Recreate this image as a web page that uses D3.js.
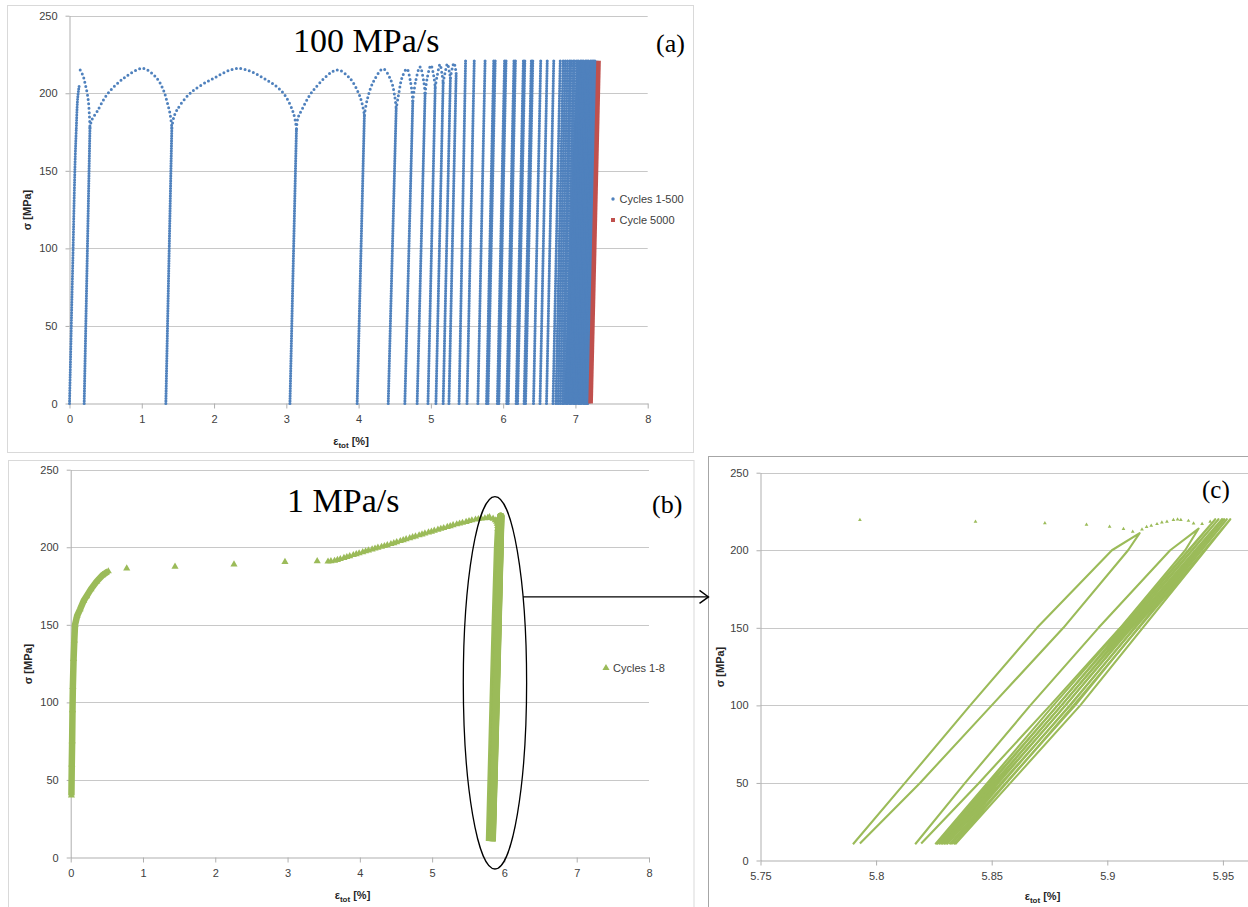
<!DOCTYPE html>
<html><head><meta charset="utf-8">
<script src="https://cdn.jsdelivr.net/npm/d3@7"></script>
<style>
body{margin:0;background:#fff;}
svg{display:block;}
text{font-family:"Liberation Sans",Arial,sans-serif;}
</style></head><body>
<svg id="chart" width="1248" height="907"></svg>
<script>
// ---------- tick labels ----------
const yTicks = [0, 50, 100, 150, 200, 250];
const abTicksX = [0, 1, 2, 3, 4, 5, 6, 7, 8];
const cTicksX = [5.75, 5.8, 5.85, 5.9, 5.95];

// ---------- panel (a): 100 MPa/s, cycles 1-500 ----------
const aLoad1 = [[0,0],[0.01,20],[0.02,40],[0.033,67],[0.05,100],[0.065,133],[0.08,160],[0.093,176],[0.11,195],[0.125,202],[0.135,205]];
const aArcs = [
  [[0.148,215],[0.19,211],[0.217,206],[0.245,200],[0.263,194],[0.275,186],[0.283,178]],
  [[0.283,178],[0.31,183],[0.379,188],[0.517,199],[0.747,209.6],[1.015,216],[1.209,209.6],[1.30,202],[1.347,195],[1.39,187],[1.416,178]],
  [[1.416,178],[1.44,184],[1.485,189],[1.669,200],[1.99,209.6],[2.34,216],[2.73,208.5],[2.96,200],[3.10,187],[3.14,177]],
  [[3.14,177],[3.16,184],[3.21,189],[3.375,202],[3.70,215],[3.88,209.6],[4.00,200],[4.05,193],[4.08,186]],
  [[4.08,186],[4.12,196],[4.20,207],[4.34,215.7],[4.45,208],[4.50,198],[4.52,190]],
  [[4.52,190],[4.56,201],[4.60,210],[4.667,215.7],[4.72,207],[4.75,195]],
  [[4.75,195],[4.79,208],[4.85,217],[4.90,208],[4.92,200]],
  [[4.92,200],[4.95,210],[5.00,218],[5.04,211],[5.06,204]],
  [[5.06,204],[5.09,212],[5.126,218.5],[5.155,212],[5.17,207]],
  [[5.17,207],[5.20,214],[5.23,219],[5.255,214],[5.27,210]],
  [[5.27,210],[5.295,216],[5.32,219.5],[5.34,216],[5.35,213]]
];
// [strain at 0 MPa, strain at top, stress at top]
const aSpikes = [
  [0.203,0.283,178],[1.333,1.416,178],[3.05,3.14,177],[3.98,4.08,186],[4.41,4.52,190],
  [4.64,4.75,195],[4.81,4.92,200],[4.96,5.06,204],[5.07,5.17,207],[5.17,5.27,210],[5.25,5.35,213],
  [5.39,5.48,221],[5.50,5.60,221],[5.65,5.75,221],[5.77,5.87,221],[5.79,5.89,221],
  [5.92,6.02,221],[5.94,6.04,221],[6.05,6.15,221],[6.07,6.17,221],[6.18,6.28,221],[6.20,6.30,221],
  [6.29,6.39,221],[6.31,6.41,221],[6.42,6.52,221],[6.51,6.61,221],[6.60,6.70,221],[6.69,6.79,221],
  [6.73,6.83,221],[6.76,6.86,221],[6.79,6.89,221],[6.82,6.92,221],[6.84,6.94,221],[6.87,6.97,221],
  [6.89,6.99,221],[6.92,7.02,221],[6.94,7.04,221],[6.97,7.07,221],[6.99,7.09,221],[7.01,7.11,221],
  [7.04,7.14,221],[7.06,7.16,221],[7.08,7.18,221],[7.11,7.21,221],[7.13,7.23,221],[7.15,7.25,221],[7.17,7.27,221]
];
const aDenseCore = [[6.84,0],[7.21,0],[7.32,221],[7.02,221],[6.98,180],[6.93,120],[6.88,50]];
const aCycle5000 = [[7.21,0],[7.32,221]];

// ---------- panel (b): 1 MPa/s, cycles 1-8 ----------
const bInitial = [[0.01,40],[0.015,60],[0.02,75],[0.025,95],[0.03,110],[0.04,128],[0.05,140],[0.06,150],[0.09,156],[0.13,160],[0.18,165.5],[0.22,168.5],[0.28,173],[0.36,178],[0.44,182],[0.52,184.5]];
const bCreep = [[0.775,186.4],[1.443,187.5],[2.259,189],[2.964,190.6],[3.41,191.0],
  [3.56,190.8],[3.60,191.0],[3.65,191.3],[3.69,191.8],[3.73,192.4],[3.78,193.1],[3.82,193.7],[3.86,194.3],
  [3.91,195.0],[3.95,195.6],[3.99,196.1],[4.04,196.8],[4.08,197.4],[4.12,198.0],[4.17,198.6],[4.21,199.2],
  [4.25,199.7],[4.30,200.3],[4.34,200.8],[4.38,201.4],[4.43,202.1],[4.47,202.7],[4.51,203.3],[4.56,204.0],
  [4.60,204.6],[4.64,205.2],[4.69,205.9],[4.73,206.5],[4.77,207.0],[4.82,207.7],[4.86,208.3],[4.90,208.9],
  [4.95,209.6],[4.99,210.1],[5.03,210.7],[5.08,211.3],[5.12,211.9],[5.16,212.4],[5.21,213.1],[5.25,213.6],
  [5.29,214.2],[5.34,214.8],[5.38,215.3],[5.42,215.8],[5.47,216.4],[5.51,216.9],[5.55,217.4],[5.60,217.9],
  [5.64,218.2],[5.68,218.5],[5.73,218.7],[5.77,218.9]];

// ---------- panel (c): zoom of the 8 loops ----------
const cLoops = [
  [[5.790,10.5],[5.8125,50],[5.8407,100],[5.8696,150],[5.902,200],[5.914,211],[5.909,200],[5.881,150],[5.850,100],[5.8190,50],[5.793,11]],
  [[5.8169,10.5],[5.8385,50],[5.8667,100],[5.8962,150],[5.9272,200],[5.9395,214],[5.9337,200],[5.9056,150],[5.8753,100],[5.8445,50],[5.8195,11]],
  [[5.8256,10.5],[5.8767,100],[5.9467,220],[5.8785,100],[5.8262,10.5]],
  [[5.8270,10.5],[5.8785,100],[5.9481,220],[5.8802,100],[5.8278,10.5]],
  [[5.8285,10.5],[5.8802,100],[5.9496,220],[5.8819,100],[5.8292,10.5]],
  [[5.8299,10.5],[5.8819,100],[5.9506,220],[5.8840,100],[5.8306,10.5]],
  [[5.8317,10.5],[5.8837,100],[5.9517,220],[5.8861,100],[5.8325,10.5]],
  [[5.8335,10.5],[5.8854,100],[5.9532,220],[5.8883,100],[5.8342,10.5]]
];
const cTop = [[5.793,219.5],[5.843,218.4],[5.873,217.4],[5.891,216.5],[5.901,215.2],[5.907,213.7],[5.911,212],
  [5.915,213.5],[5.917,215],[5.919,215.8],[5.9215,216.9],[5.9236,218],[5.9258,218.4],[5.9286,219.5],[5.9304,219.9],
  [5.9318,219.5],[5.9351,219],[5.9373,217.3],[5.941,217],[5.9445,218.4],[5.950,219.5]];

// ---------- legends / texts ----------
const aLegend = ["Cycles 1-500", "Cycle 5000"];
const bLegend = ["Cycles 1-8"];

const BLUE = "#4F81BD", RED = "#C0504D", GREEN = "#9BBB59";
const svg = d3.select("#chart");

function panel(o) {
  const x = d3.scaleLinear().domain(o.xDomain).range([o.left, o.right]);
  const y = d3.scaleLinear().domain([0, 250]).range([o.bottom, o.top]);
  const g = svg.append("g");
  g.append("rect").attr("x", o.frame[0]).attr("y", o.frame[1]).attr("width", o.frame[2]).attr("height", o.frame[3])
    .attr("fill", "#fff").attr("stroke", o.frameColor).attr("stroke-width", 1);
  g.selectAll("line.grid").data(yTicks.filter(d => d > 0)).join("line").attr("class", "grid")
    .attr("x1", o.left).attr("x2", o.right).attr("y1", d => Math.round(y(d)) + 0.5).attr("y2", d => Math.round(y(d)) + 0.5)
    .attr("stroke", "#C8C8C8").attr("stroke-width", 1);
  const ya = g.append("g").attr("transform", `translate(${o.left},0)`)
    .call(d3.axisLeft(y).tickValues(yTicks).tickSize(4).tickSizeOuter(0).tickPadding(8).tickFormat(d => String(d)));
  const xa = g.append("g").attr("transform", `translate(0,${o.bottom})`)
    .call(d3.axisBottom(x).tickValues(o.xTicks).tickSize(5).tickSizeOuter(0).tickPadding(7).tickFormat(d => String(d)));
  [ya, xa].forEach(a => {
    a.select(".domain").attr("stroke", "#AFAFAF");
    a.selectAll(".tick line").attr("stroke", "#AFAFAF");
    a.selectAll(".tick text").attr("fill", "#404040").style("font-size", "11px")
      .style("font-family", '"Liberation Sans", Arial, sans-serif');
  });
  // axis titles
  g.append("text").attr("transform", `translate(${o.yLab[0]},${o.yLab[1]}) rotate(-90)`)
    .attr("text-anchor", "middle").attr("dominant-baseline", "central")
    .style("font-size", "11px").style("font-weight", "bold").attr("fill", "#262626").text("σ [MPa]");
  const xt = g.append("text").attr("x", o.xLab[0]).attr("y", o.xLab[1]).attr("text-anchor", "middle")
    .style("font-size", "11px").style("font-weight", "bold").attr("fill", "#262626");
  xt.append("tspan").text("ε");
  xt.append("tspan").attr("dy", 3).style("font-size", "8px").text("tot");
  xt.append("tspan").attr("dy", -3).text(" [%]");
  // title letters
  if (o.title) g.append("text").attr("x", o.title[0]).attr("y", o.title[1]).text(o.title[2])
    .style("font-family", '"Liberation Serif","Times New Roman",serif').style("font-size", "34px").attr("fill", "#000");
  g.append("text").attr("x", o.tag[0]).attr("y", o.tag[1]).text(o.tag[2])
    .style("font-family", '"Liberation Serif","Times New Roman",serif').style("font-size", o.tag[3] + "px").attr("fill", "#000");
  return { x, y, g };
}

// ===== panel (a) =====
const A = panel({ xDomain: [0, 8], left: 69.5, right: 647.7, top: 15.7, bottom: 403.5, xTicks: abTicksX,
  frame: [7.5, 5.5, 686, 447], frameColor: "#D9D9D9", yLab: [27, 210], xLab: [351, 445],
  title: [293, 52, "100 MPa/s"], tag: [656, 52, "(a)", 26] });
const lineA = d3.line().x(d => A.x(d[0])).y(d => A.y(d[1]));
const gA = A.g.append("g");
gA.append("path").datum(aDenseCore).attr("d", d => lineA(d) + "Z").attr("fill", BLUE);
gA.selectAll("path.spike").data(aSpikes).join("path").attr("class", "spike")
  .attr("d", s => lineA([[s[0], 0], [s[1], s[2]]]))
  .attr("fill", "none").attr("stroke", BLUE).attr("stroke-width", 3.1)
  .attr("stroke-linecap", "round").attr("stroke-dasharray", "0 2.5");
gA.append("path").datum(aLoad1).attr("d", lineA.curve(d3.curveCatmullRom)(aLoad1))
  .attr("fill", "none").attr("stroke", BLUE).attr("stroke-width", 3)
  .attr("stroke-linecap", "round").attr("stroke-dasharray", "0 2.6");
gA.selectAll("path.arc").data(aArcs).join("path").attr("class", "arc")
  .attr("d", d => d3.line().x(p => A.x(p[0])).y(p => A.y(p[1])).curve(d3.curveCatmullRom)(d))
  .attr("fill", "none").attr("stroke", BLUE).attr("stroke-width", 3)
  .attr("stroke-linecap", "round").attr("stroke-dasharray", "0 4.4");
gA.append("path").datum(aCycle5000).attr("d", d3.line().x(p => A.x(p[0])).y(p => A.y(p[1])))
  .attr("fill", "none").attr("stroke", RED).attr("stroke-width", 4.6);
// legend (a)
A.g.append("circle").attr("cx", 613).attr("cy", 199).attr("r", 1.7).attr("fill", BLUE);
A.g.append("rect").attr("x", 611).attr("y", 218).attr("width", 4).attr("height", 4).attr("fill", RED);
A.g.selectAll("text.leg").data(aLegend).join("text").attr("class", "leg")
  .attr("x", 619.5).attr("y", (d, i) => 199 + i * 21).attr("dominant-baseline", "central")
  .style("font-size", "11px").attr("fill", "#404040").text(d => d);

// ===== panel (c) (drawn before b so the arrow sits on top) =====
const C = panel({ xDomain: [5.75, 6.0], left: 760.5, right: 760.5 + 0.25 * 2312, top: 472.7, bottom: 860.5, xTicks: cTicksX,
  frame: [708.5, 456.5, 700, 500], frameColor: "#A6A6A6", yLab: [720, 667], xLab: [1042.5, 900],
  title: null, tag: [1202, 498, "(c)", 25] });
const lineC = d3.line().x(d => C.x(d[0])).y(d => C.y(d[1]));
C.g.selectAll("path.loop").data(cLoops).join("path").attr("class", "loop")
  .attr("d", d => lineC(d)).attr("fill", "none").attr("stroke", GREEN).attr("stroke-width", 2.1)
  .attr("stroke-linejoin", "round");
C.g.selectAll("path.tri").data(cTop).join("path").attr("class", "tri")
  .attr("transform", d => `translate(${C.x(d[0])},${C.y(d[1])})`)
  .attr("d", d3.symbol(d3.symbolTriangle, 6)()).attr("fill", GREEN);

// ===== panel (b) =====
const B = panel({ xDomain: [0, 8], left: 70.7, right: 649, top: 469.7, bottom: 857.5, xTicks: abTicksX,
  frame: [8.5, 460.5, 685.5, 470], frameColor: "#D9D9D9", yLab: [28, 664], xLab: [352.5, 899],
  title: [287, 512, "1 MPa/s"], tag: [652, 512.5, "(b)", 26] });
const lineB = d3.line().x(d => B.x(d[0])).y(d => B.y(d[1]));
const tri = d3.symbol(d3.symbolTriangle, 22)();
B.g.append("path").attr("d", lineB(bInitial)).attr("fill", "none").attr("stroke", GREEN)
  .attr("stroke-width", 6.5).attr("stroke-linejoin", "round");
B.g.selectAll("path.ini").data(bInitial).join("path").attr("class", "ini")
  .attr("transform", d => `translate(${B.x(d[0])},${B.y(d[1])})`).attr("d", tri).attr("fill", GREEN);
B.g.selectAll("path.cr").data(bCreep).join("path").attr("class", "cr")
  .attr("transform", d => `translate(${B.x(d[0])},${B.y(d[1])})`).attr("d", tri).attr("fill", GREEN);
B.g.selectAll("path.lp").data(cLoops).join("path").attr("class", "lp")
  .attr("d", d => lineB(d)).attr("fill", "none").attr("stroke", GREEN).attr("stroke-width", 7)
  .attr("stroke-linejoin", "round");
B.g.selectAll("path.tp").data(cTop).join("path").attr("class", "tp")
  .attr("transform", d => `translate(${B.x(d[0])},${B.y(d[1])})`).attr("d", tri).attr("fill", GREEN);
// legend (b)
B.g.append("path").attr("transform", "translate(606,668)").attr("d", d3.symbol(d3.symbolTriangle, 22)()).attr("fill", GREEN);
B.g.selectAll("text.leg").data(bLegend).join("text").attr("class", "leg")
  .attr("x", 613).attr("y", 668).attr("dominant-baseline", "central")
  .style("font-size", "11px").attr("fill", "#404040").text(d => d);

// ellipse around the loops of (b) and arrow to (c)
const ell = { cx: 5.869, cy: 112.6, rx: 0.438, ry: 120 };
const ecx = B.x(ell.cx), ecy = B.y(ell.cy), erx = B.x(ell.rx) - B.x(0), ery = B.y(0) - B.y(ell.ry);
svg.append("ellipse").attr("cx", ecx).attr("cy", ecy).attr("rx", erx).attr("ry", ery)
  .attr("fill", "none").attr("stroke", "#000").attr("stroke-width", 1.3);
const arrowY = B.y(168);
const arrowX0 = ecx + erx * Math.sqrt(1 - Math.pow((arrowY - ecy) / ery, 2));
const arrowX1 = 708.5;
svg.append("line").attr("x1", arrowX0).attr("x2", arrowX1).attr("y1", arrowY).attr("y2", arrowY)
  .attr("stroke", "#000").attr("stroke-width", 1.4);
svg.append("path").attr("d", `M${arrowX1 - 9},${arrowY - 6.5}L${arrowX1},${arrowY}L${arrowX1 - 9},${arrowY + 6.5}`)
  .attr("fill", "none").attr("stroke", "#000").attr("stroke-width", 1.4);
</script>
</body></html>
